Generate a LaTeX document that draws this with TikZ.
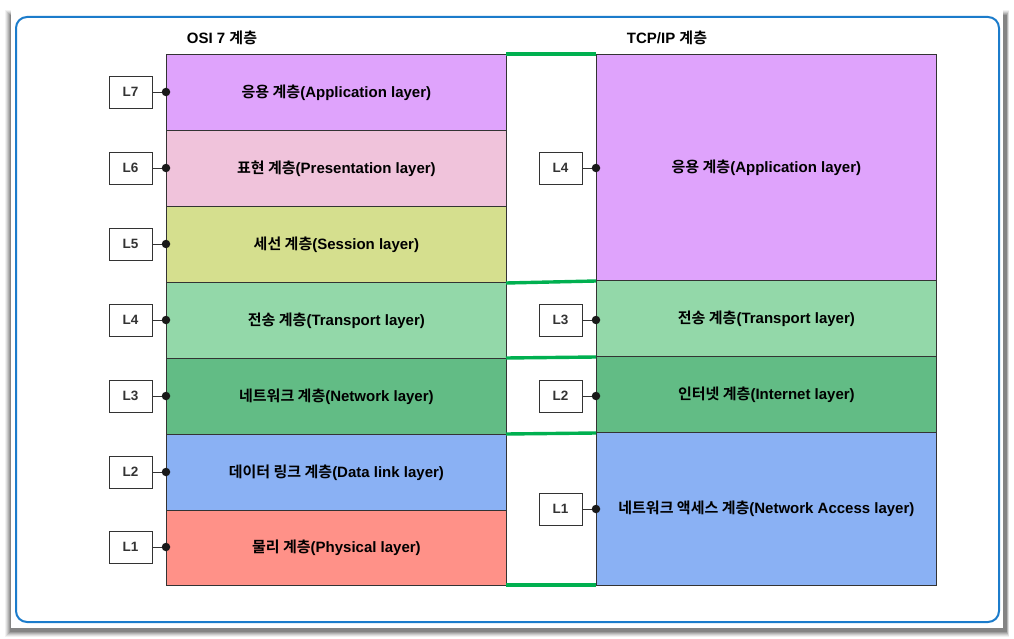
\documentclass[tikz,border=0pt]{standalone}
\usepackage{fontspec}
\setmainfont{Liberation Sans}
\newfontfamily\kr{Noto Sans CJK KR}[BoldFont={* Bold}]
\newcommand{\K}[1]{{\kr #1}}
\usetikzlibrary{calc}
\definecolor{appc}{HTML}{DFA3FC}
\definecolor{prec}{HTML}{F0C3DB}
\definecolor{sesc}{HTML}{D5DF8E}
\definecolor{trac}{HTML}{93D8A9}
\definecolor{netc}{HTML}{62BC85}
\definecolor{datc}{HTML}{8AB1F4}
\definecolor{phyc}{HTML}{FF9188}
\definecolor{grn}{HTML}{00B050}
\definecolor{frameblue}{HTML}{1C7CCB}
\definecolor{edge}{HTML}{333333}
\tikzset{
  layerbox/.style={draw=edge, line width=0.8pt, minimum width=340pt, inner sep=0pt, font=\bfseries\fontsize{15}{17}\selectfont, anchor=north west},
  lbox/.style={draw=edge, line width=0.8pt, fill=white, minimum width=43pt, minimum height=32pt, inner sep=0pt, font=\bfseries\fontsize{13.5}{15}\selectfont, text=black!80},
  conn/.style={draw=edge, line width=0.8pt},
  dotc/.style={circle, fill=black!90, inner sep=0pt, minimum size=8.5pt},
  gline/.style={draw=grn, line width=3.4pt},
  title/.style={font=\bfseries\fontsize{15}{17}\selectfont}
}
\begin{document}
\begin{tikzpicture}[x=1pt,y=-1pt]
\useasboundingbox (0,0) rectangle (1014,639);
\fill[white] (0,0) rectangle (1014,639);
% shadow
\foreach \i/\o in {6/0.05,5/0.07,4/0.09,3/0.11,2/0.13,1/0.15}{
  \fill[black, opacity=\o] (11-\i,14-\i+2) rectangle (1006+\i*0.5,631+\i);
}
\fill[white] (11,10) rectangle (1003,628);
\draw[frameblue, line width=2pt, rounded corners=11pt] (16,17) rectangle (999,622);
% titles
\node[title] (t1) at (222,38) {OSI 7 \K{계층}};
\node[title] (t2) at (667,38) {TCP/IP \K{계층}};
% left layers
\node[layerbox, fill=appc, minimum height=76pt] (a7) at (166,54) {\K{응용 계층}(Application layer)};
\node[layerbox, fill=prec, minimum height=76pt] (a6) at (166,130) {\K{표현 계층}(Presentation layer)};
\node[layerbox, fill=sesc, minimum height=76pt] (a5) at (166,206) {\K{세선 계층}(Session layer)};
\node[layerbox, fill=trac, minimum height=76pt] (a4) at (166,282) {\K{전송 계층}(Transport layer)};
\node[layerbox, fill=netc, minimum height=76pt] (a3) at (166,358) {\K{네트워크 계층}(Network layer)};
\node[layerbox, fill=datc, minimum height=76pt] (a2) at (166,434) {\K{데이터 링크 계층}(Data link layer)};
\node[layerbox, fill=phyc, minimum height=75pt] (a1) at (166,510) {\K{물리 계층}(Physical layer)};
% middle column
\node[draw=edge, line width=0.8pt, fill=white, minimum width=90pt, minimum height=531pt, inner sep=0pt, anchor=north west] (mid) at (506,54) {};
% right layers
\node[layerbox, fill=appc, minimum height=226pt] (b4) at (596,54) {\K{응용 계층}(Application layer)};
\node[layerbox, fill=trac, minimum height=76pt] (b3) at (596,280) {\K{전송 계층}(Transport layer)};
\node[layerbox, fill=netc, minimum height=76pt] (b2) at (596,356) {\K{인터넷 계층}(Internet layer)};
\node[layerbox, fill=datc, minimum height=153pt] (b1) at (596,432) {\K{네트워크 액세스 계층}(Network Access layer)};
% green lines
\coordinate (g0l) at (506,54); \coordinate (g0r) at (596,54);
\coordinate (g1l) at (506,283); \coordinate (g1r) at (596,281);
\coordinate (g2l) at (506,358); \coordinate (g2r) at (596,357);
\coordinate (g3l) at (506,434); \coordinate (g3r) at (596,433);
\coordinate (g4l) at (506,585); \coordinate (g4r) at (596,585);
\foreach \g in {g0,g1,g2,g3,g4}{\draw[gline] (\g l) -- (\g r);}
% left labels
\foreach \n/\y/\t in {7/92/L7,6/168/L6,5/244/L5,4/320/L4,3/396/L3,2/472/L2,1/547/L1}{
  \node[lbox] (ll\n) at (130.5,\y) {\t};
  \coordinate (ld\n) at (166,\y);
  \draw[conn] (ll\n.east) -- (ld\n);
  \node[dotc] (ldd\n) at (ld\n) {};
}
% right labels
\foreach \n/\y/\t in {4/168/L4,3/320/L3,2/396/L2,1/509/L1}{
  \node[lbox] (rl\n) at (560.5,\y) {\t};
  \coordinate (rd\n) at (596,\y);
  \draw[conn] (rl\n.east) -- (rd\n);
  \node[dotc] (rdd\n) at (rd\n) {};
}
\end{tikzpicture}
\end{document}
